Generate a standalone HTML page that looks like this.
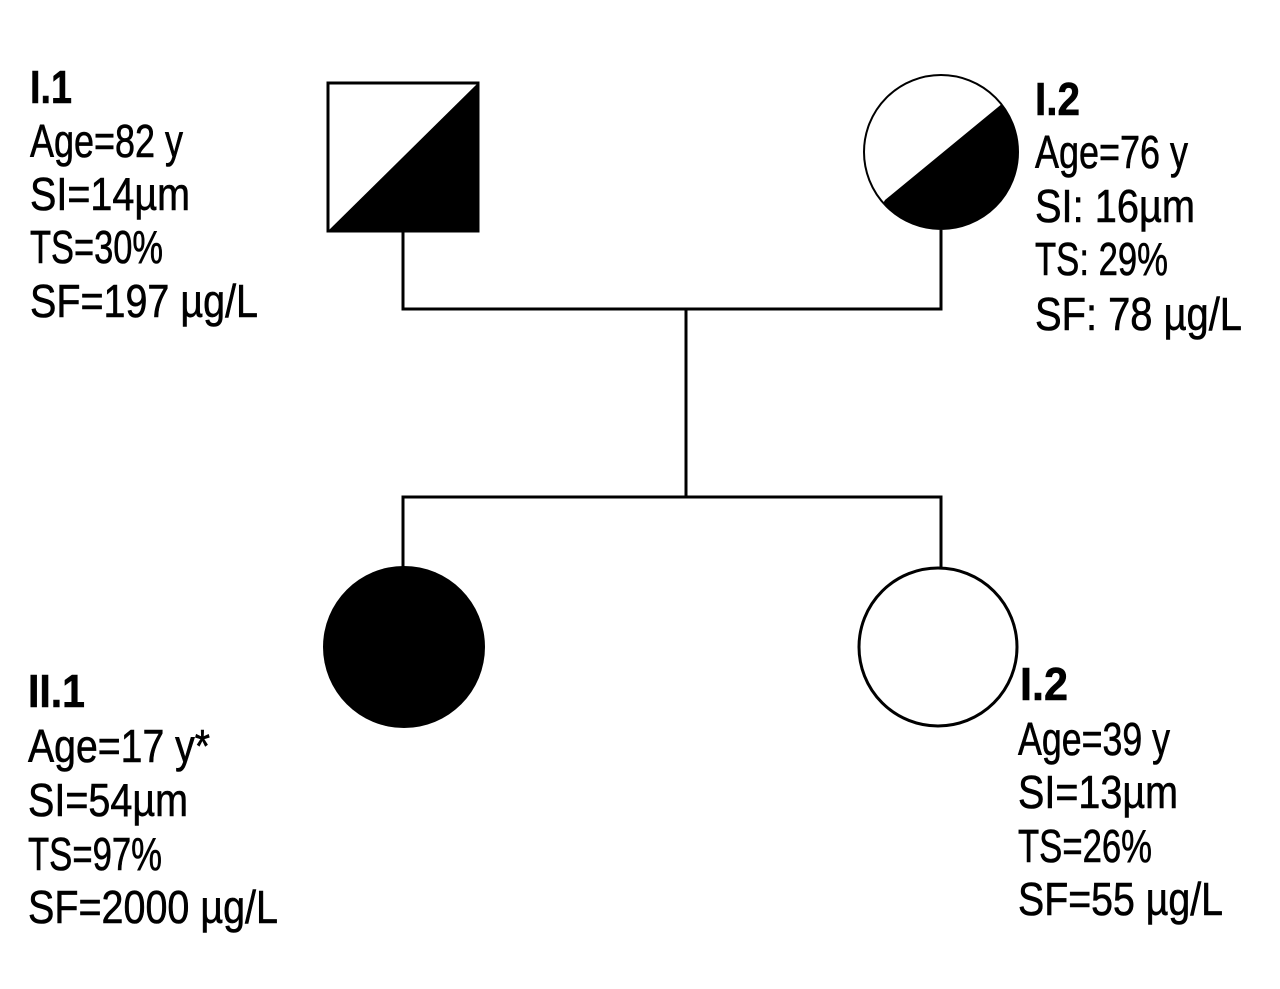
<!DOCTYPE html>
<html><head><meta charset="utf-8"><style>html,body{margin:0;padding:0;background:#fff}</style></head>
<body>
<svg width="1280" height="984" viewBox="0 0 1280 984" xmlns="http://www.w3.org/2000/svg">
<defs><clipPath id="c"><circle cx="941" cy="152" r="77"/></clipPath></defs>
<g stroke="#000" stroke-width="3" fill="none">
<polyline points="403,232 403,309 941,309 941,230"/>
<line x1="686" y1="309" x2="686" y2="497"/>
<polyline points="403,567 403,497 941,497 941,568"/>
</g>
<rect x="328" y="83" width="150" height="148" fill="#fff" stroke="#000" stroke-width="3"/>
<polygon points="478,83 478,231 328,231" fill="#000"/>
<circle cx="941" cy="152" r="77" fill="#fff"/>
<polygon points="885,200 1003,103 1060,60 1060,260 850,260" fill="#000" clip-path="url(#c)"/>
<circle cx="941" cy="152" r="77" fill="none" stroke="#000" stroke-width="2"/>
<circle cx="404" cy="647" r="81" fill="#000"/>
<circle cx="938" cy="647" r="79" fill="#fff" stroke="#000" stroke-width="3"/>
<g font-family="Liberation Sans, sans-serif" font-size="46" fill="#000" stroke="#000" stroke-width="0.6">
<text x="30" y="103" font-weight="bold" textLength="42" lengthAdjust="spacingAndGlyphs">I.1</text>
<text x="30" y="157" textLength="153" lengthAdjust="spacingAndGlyphs">Age=82 y</text>
<text x="30" y="210" textLength="160" lengthAdjust="spacingAndGlyphs">SI=14µm</text>
<text x="30" y="263" textLength="133" lengthAdjust="spacingAndGlyphs">TS=30%</text>
<text x="30" y="317" textLength="228" lengthAdjust="spacingAndGlyphs">SF=197 µg/L</text>

<text x="1035" y="115" font-weight="bold" textLength="45" lengthAdjust="spacingAndGlyphs">I.2</text>
<text x="1035" y="168" textLength="153" lengthAdjust="spacingAndGlyphs">Age=76 y</text>
<text x="1035" y="222" textLength="160" lengthAdjust="spacingAndGlyphs">SI: 16µm</text>
<text x="1035" y="275" textLength="133" lengthAdjust="spacingAndGlyphs">TS: 29%</text>
<text x="1035" y="330" textLength="207" lengthAdjust="spacingAndGlyphs">SF: 78 µg/L</text>

<text x="28" y="707" font-weight="bold" textLength="57" lengthAdjust="spacingAndGlyphs">II.1</text>
<text x="28" y="762" textLength="182" lengthAdjust="spacingAndGlyphs">Age=17 y*</text>
<text x="28" y="816" textLength="160" lengthAdjust="spacingAndGlyphs">SI=54µm</text>
<text x="28" y="870" textLength="134" lengthAdjust="spacingAndGlyphs">TS=97%</text>
<text x="28" y="923" textLength="250" lengthAdjust="spacingAndGlyphs">SF=2000 µg/L</text>

<text x="1020" y="700" font-weight="bold" textLength="48" lengthAdjust="spacingAndGlyphs">I.2</text>
<text x="1018" y="755" textLength="152" lengthAdjust="spacingAndGlyphs">Age=39 y</text>
<text x="1018" y="808" textLength="160" lengthAdjust="spacingAndGlyphs">SI=13µm</text>
<text x="1018" y="862" textLength="134" lengthAdjust="spacingAndGlyphs">TS=26%</text>
<text x="1018" y="915" textLength="205" lengthAdjust="spacingAndGlyphs">SF=55 µg/L</text>
</g>
</svg>
</body></html>
